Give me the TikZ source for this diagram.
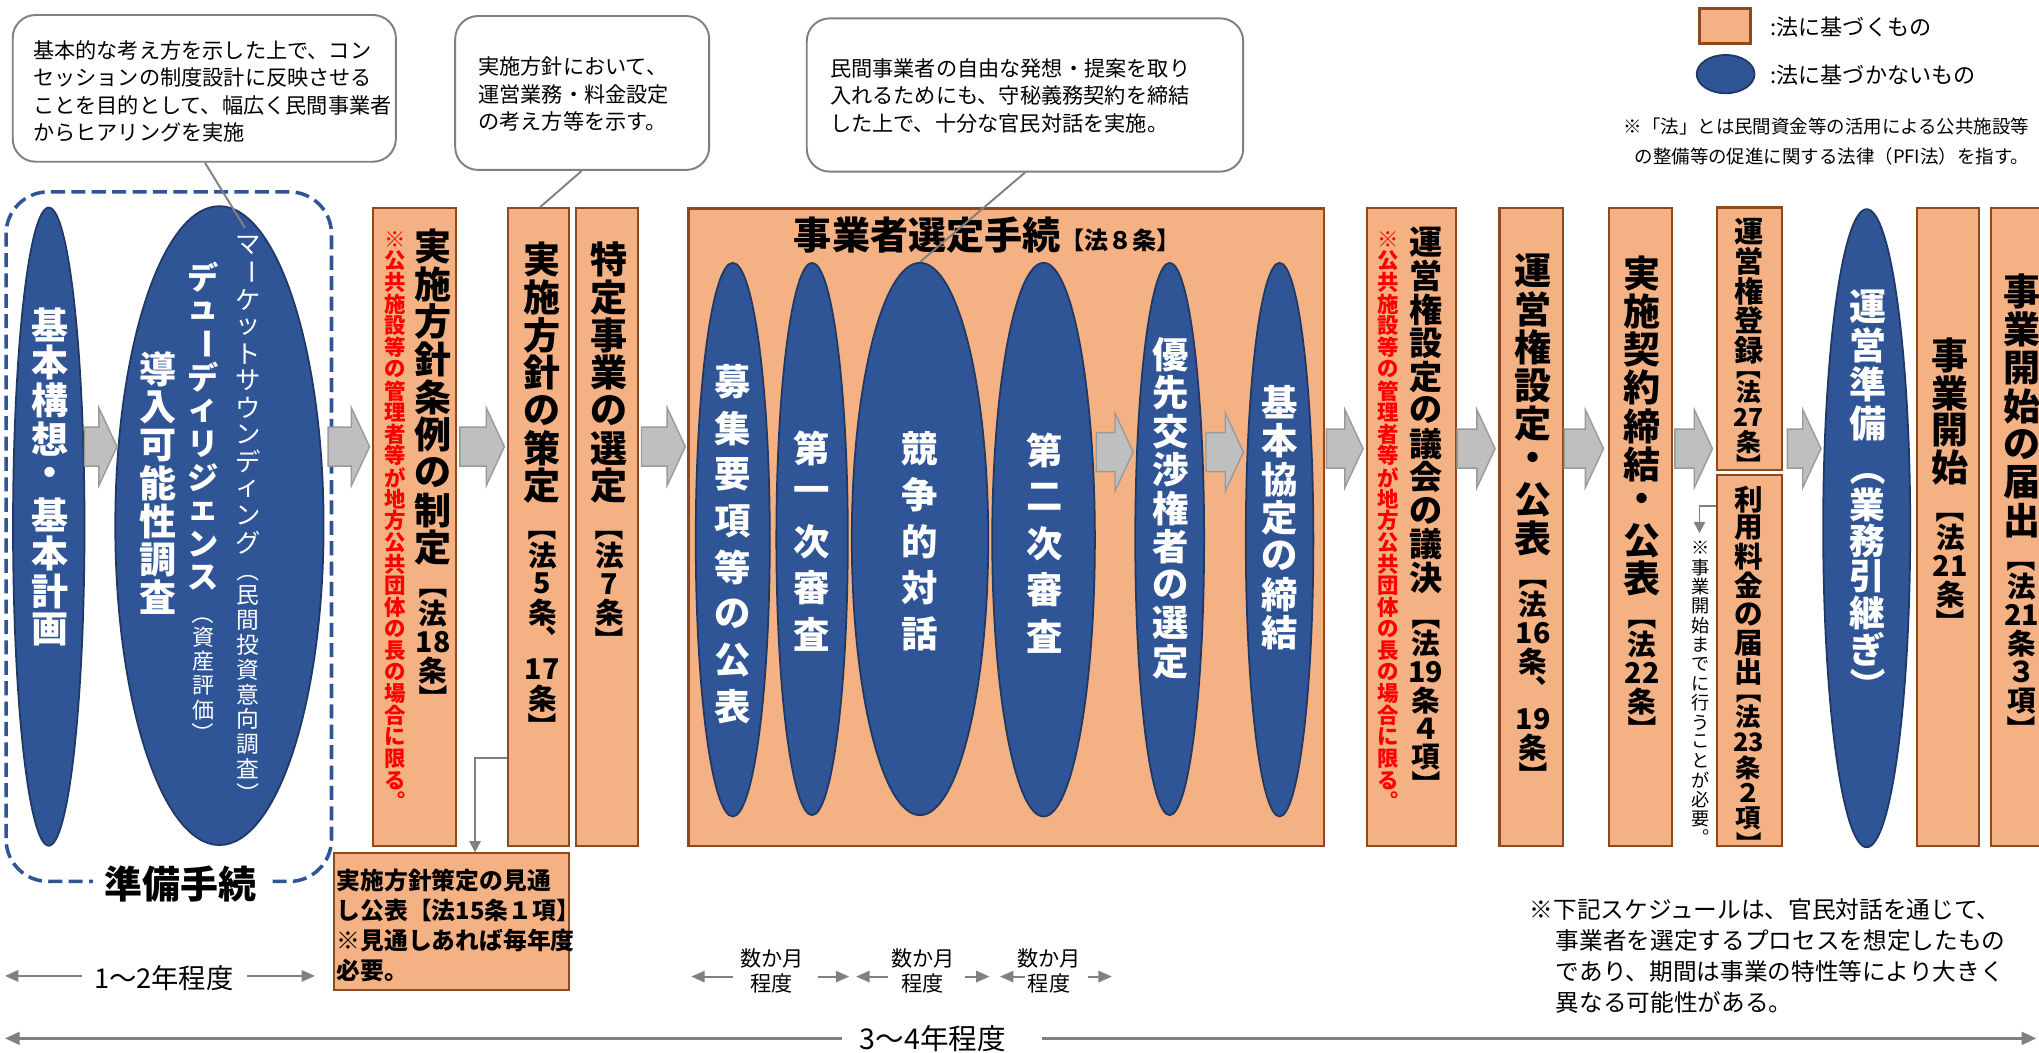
\documentclass[tikz,border=0pt]{standalone}
\usepackage{fontspec}
\setmainfont{Noto Sans CJK JP}
\usepackage{graphicx}
\usetikzlibrary{shapes.geometric,arrows.meta}

\definecolor{ofill}{HTML}{F4B183}
\definecolor{obrd}{HTML}{8E4A1C}
\definecolor{eblue}{HTML}{2F5597}
\definecolor{ebrd}{HTML}{1F3864}
\definecolor{arrfill}{HTML}{BFBFBF}
\definecolor{arrdraw}{HTML}{9A9A9A}
\definecolor{cgray}{HTML}{808080}
\definecolor{tred}{HTML}{FF0000}

\newdimen\px \px=0.36968pt
\newdimen\vtp
\def\vtstop{\vtstopmark}
\newcommand\Tv[2]{\vbox{\offinterlineskip\vtp=#1\px\relax\vtloop#2\vtstop}}
\def\vtloop#1{\ifx\vtstop#1\else\vtcell{#1}\expandafter\vtloop\fi}
\def\vtcell#1{\hbox to 1.1em{\hss\vbox to\vtp{\vss\hbox{#1}\vss}\hss}}
\newcommand\vLB{\rotatebox[origin=c]{-90}{【}}
\newcommand\vRB{\rotatebox[origin=c]{-90}{】}}
\newcommand\vLP{\rotatebox[origin=c]{-90}{（}}
\newcommand\vRP{\rotatebox[origin=c]{-90}{）}}
\newcommand\vCH{\rotatebox[origin=c]{-90}{ー}}
\newcommand\vVC{\raisebox{0pt}[0.85em][0.15em]{︑}}
\newcommand\vVP{\raisebox{0pt}[0.85em][0.15em]{︒}}
\newcommand\Fs[1]{\fontsize{#1\px}{#1\px}\selectfont}
\newcommand\Fl[2]{\fontsize{#1\px}{#2\px}\selectfont}
\newcommand\Fb[1]{\bfseries\Fs{#1}}

\tikzset{
 obox/.style={draw=obrd, fill=ofill, line width=0.6pt, inner sep=0pt},
 ebl/.style={ellipse, draw=ebrd, fill=eblue, line width=0.5pt, inner sep=0pt},
 vtx/.style={inner sep=0pt, anchor=north},
 wt/.style={text=white},
 bk/.style={text=black},
 rd/.style={text=tred},
 tx/.style={inner sep=0pt},
 callout/.style={draw=cgray, line width=0.55pt, rounded corners=6.5pt, fill=white, inner sep=0pt},
 ptr/.style={draw=cgray, line width=0.55pt},
 annot/.style={draw=cgray, line width=0.55pt, -{Triangle[length=3.2pt,width=3.2pt]}},
 tl/.style={draw=cgray, line width=0.6pt, -{Triangle[length=3.8pt,width=3.2pt]}},
 tll/.style={draw=cgray, line width=0.8pt, -{Triangle[length=4.2pt,width=3.6pt]}},
 dashbox/.style={draw=eblue, line width=1pt, dash pattern=on 4pt off 1.8pt, rounded corners=12pt, inner sep=0pt},
 barrowst/.style={fill=arrfill, draw=arrdraw, line width=0.4pt},
}
\newcommand\rnode[6]{\node[#1, minimum width={(#4-#3)*\px}, minimum height={(#6-#5)*\px}] (#2) at ({(#3+#4)/2},{(#5+#6)/2}) {};}
\newcommand\enode[5]{\node[ebl, minimum width={#3*\px}, minimum height={#5*\px}] (#1) at (#2,#4) {};}
\newcommand\vnode[7]{\node[vtx,#5,font=#6] (#1) at (#2,#3) {\Tv{#4}{#7}};}
\newcommand\barrow[3]{\path[barrowst] (#1,{#3-15}) -- ({#2-14},{#3-15}) -- ({#2-14},{#3-30}) -- (#2,#3) -- ({#2-14},{#3+30}) -- ({#2-14},{#3+15}) -- (#1,{#3+15}) -- cycle;}

\begin{document}
\begin{tikzpicture}[x=0.013004cm,y=-0.013004cm]
\fill[white] (0,0) rectangle (1568,809);
\useasboundingbox (0,0) rectangle (1568,809);

% preparation group
\node[dashbox, minimum width={250.4*\px}, minimum height={530.6*\px}] (prep) at (129.8,412.7) {};
\enode{e1}{37.5}{55}{405}{491}
\enode{e2}{168.75}{160.3}{404.2}{491.6}
\node[tx, fill=white, inner xsep=3.3pt, font=\Fb{29.2}] (prepl) at (139,680) {準備手続};

% boxes
\rnode{obox}{b1}{286.6}{350.7}{160}{650.5}
\rnode{obox}{b2}{390.9}{437.8}{160}{650.5}
\rnode{obox}{b3}{443}{490.4}{160}{650.5}
\rnode{obox}{bb}{529.3}{1018.2}{160.2}{650.5}
\rnode{obox}{b4}{1051.1}{1119.5}{160}{650.5}
\rnode{obox}{b5}{1153.1}{1201.9}{160}{650.5}
\rnode{obox}{b6}{1237.2}{1285.9}{160}{650.5}
\rnode{obox}{b7}{1320.3}{1370.4}{159.5}{361.5}
\rnode{obox}{b8}{1320.3}{1370.4}{364.9}{650.5}
\rnode{obox}{b9}{1474.1}{1522.1}{160}{650.5}
\rnode{obox}{b10}{1531.4}{1580}{160}{650.5}
\rnode{obox}{sb}{256.8}{437.8}{656.2}{761.3}

% ellipses in selection procedure
\enode{e3}{563.5}{57}{415}{426}
\enode{e4}{624.5}{55}{414.5}{425}
\enode{e5}{707.5}{105}{414.5}{425}
\enode{e6}{802.5}{79}{415}{426}
\enode{e7}{899.5}{53}{414.5}{425}
\enode{e8}{984}{52}{415}{426}
\enode{e9}{1435.5}{67}{406.2}{491}

% block arrows
\barrow{65}{90}{343.5}
\barrow{252.3}{284.2}{343.5}
\barrow{353.6}{387.9}{343.5}
\barrow{493.3}{527}{343.5}
\barrow{843}{871.4}{347.7}
\barrow{927.4}{956.2}{347.7}
\barrow{1020}{1048.2}{345}
\barrow{1120.5}{1149.7}{345}
\barrow{1202.9}{1233.1}{345}
\barrow{1288}{1316.9}{345}
\barrow{1374.5}{1400.3}{345}

% vertical texts
\vnode{e1t}{38.4}{234.4}{29.3}{wt}{\Fb{28.5}}{基本構想・基本計画}
\vnode{e2a}{190.5}{177.9}{20.8}{wt}{\Fs{19.5}}{マ\vCH ケットサウンディング}
\vnode{e2b}{190.5}{429.2}{19}{wt}{\Fs{17.5}}{\vLP 民間投資意向調査\vRP}
\vnode{e2c}{156.2}{199.9}{25.7}{wt}{\Fb{24}}{デュ\vCH ディリジェンス}
\vnode{e2d}{156.2}{462}{18.5}{wt}{\Fs{17}}{\vLP 資産評価\vRP}
\vnode{e2e}{121.9}{268.7}{29.3}{wt}{\Fb{28.5}}{導入可能性調査}
\vnode{b1a}{333}{174.4}{29}{bk}{\Fb{28.5}}{実施方針条例の制定}
\vnode{b1b}{333}{438}{22}{bk}{\Fb{22}}{\vLB 法{18}条\vRB}
\vnode{b1r}{303.8}{175.2}{16.65}{rd}{\Fb{16.5}}{※公共施設等の管理者等が地方公共団体の長の場合に限る\vVP}
\vnode{b2a}{417.1}{184.7}{29}{bk}{\Fb{28.5}}{実施方針の策定}
\vnode{b2b}{417.1}{393.4}{22}{bk}{\Fb{22}}{\vLB 法5条\vVC{17}条\vRB}
\vnode{b3a}{468.6}{184.7}{29}{bk}{\Fb{28.5}}{特定事業の選定}
\vnode{b3b}{468.6}{393.4}{22}{bk}{\Fb{22}}{\vLB 法7条\vRB}
\vnode{e3t}{563.5}{275.2}{35.7}{wt}{\Fb{28}}{募集要項等の公表}
\vnode{e4t}{624.5}{326.5}{35.7}{wt}{\Fb{28}}{第一次審査}
\vnode{e5t}{707.5}{326.5}{35.7}{wt}{\Fb{28}}{競争的対話}
\vnode{e6t}{803}{328.1}{35.7}{wt}{\Fb{28}}{第二次審査}
\vnode{e7t}{900}{257.5}{29.5}{wt}{\Fb{28}}{優先交渉権者の選定}
\vnode{e8t}{984.3}{294.3}{29.5}{wt}{\Fb{28}}{基本協定の締結}
\vnode{b4a}{1096.5}{173}{25.8}{bk}{\Fb{25.5}}{運営権設定の議会の議決}
\vnode{b4b}{1096.5}{462.2}{21.7}{bk}{\Fb{22}}{\vLB 法{19}条４項\vRB}
\vnode{b4r}{1067.3}{175.2}{16.65}{rd}{\Fb{16.5}}{※公共施設等の管理者等が地方公共団体の長の場合に限る\vVP}
\vnode{b5a}{1178.9}{193.1}{29.4}{bk}{\Fb{28.5}}{運営権設定・公表}
\vnode{b5b}{1178.9}{431.2}{22}{bk}{\Fb{22}}{\vLB 法{16}条\vVC{19}条\vRB}
\vnode{b6a}{1262.9}{194.8}{29.4}{bk}{\Fb{28.5}}{実施契約締結・公表}
\vnode{b6b}{1262.9}{462}{22}{bk}{\Fb{22}}{\vLB 法{22}条\vRB}
\vnode{b7a}{1344.7}{166.2}{22.8}{bk}{\Fb{22.5}}{運営権登録}
\vnode{b7b}{1344.7}{273}{18.9}{bk}{\Fb{19}}{\vLB 法{27}条\vRB}
\vnode{b8a}{1344.7}{372.3}{22.1}{bk}{\Fb{22}}{利用料金の届出}
\vnode{b8b}{1344.7}{521.6}{19.5}{bk}{\Fb{19.5}}{\vLB 法{23}条２項\vRB}
\vnode{n1}{1307.6}{413.5}{14.9}{bk}{\Fs{14}}{※事業開始までに行うことが必要\vVP}
\vnode{e9a}{1436.3}{220.4}{29.9}{wt}{\Fb{28.5}}{運営準備}
\vnode{e9b}{1436.3}{345.9}{27.75}{wt}{\Fb{27.5}}{\vLP 業務引継ぎ\vRP}
\vnode{b9a}{1499.8}{258.6}{28.8}{bk}{\Fb{28.5}}{事業開始}
\vnode{b9b}{1499.8}{379.75}{21.9}{bk}{\Fb{22}}{\vLB 法{21}条\vRB}
\vnode{b10a}{1554.8}{208.5}{29.5}{bk}{\Fb{28.5}}{事業開始の届出}
\vnode{b10b}{1554.8}{417.4}{22}{bk}{\Fb{22}}{\vLB 法{21}条３項\vRB}

% title of selection procedure
\node[tx, anchor=west, font=\Fb{29.3}] (bbt) at (610,181) {事業者選定手続{\Fb{18.5}【法８条】}};

% small box text
\node[tx, anchor=west, align=left, font={\bfseries\Fl{18.3}{23.1}}] (sbt) at (258.5,711.4) {実施方針策定の見通\\し公表【法15条１項】\\※見通しあれば毎年度\\必要。};

% annotation arrows
\coordinate (k1) at (0,583);
\coordinate (k2) at (365.3,0);
\draw[annot] (b2.west |- k1) -| (k2 |- sb.north);
\coordinate (k3) at (0,389);
\coordinate (k4) at (1306.9,410);
\draw[annot] (b8.west |- k3) -| (k4);

% callouts
\node[callout, minimum width={294.8*\px}, minimum height={112.9*\px}] (c1) at (157.1,67.95) {};
\node[tx, anchor=west, align=left, font=\Fl{16.3}{21.2}] (c1t) at (25,70.25) {基本的な考え方を示した上で、コン\\セッションの制度設計に反映させる\\ことを目的として、幅広く民間事業者\\からヒアリングを実施};
\node[callout, minimum width={195.4*\px}, minimum height={118.4*\px}] (c2) at (447.7,71.5) {};
\node[tx, anchor=west, align=left, font=\Fl{16.3}{21.2}] (c2t) at (367.3,72.5) {実施方針において、\\運営業務・料金設定\\の考え方等を示す。};
\node[callout, minimum width={335.8*\px}, minimum height={117.9*\px}] (c3) at (788.2,73.05) {};
\node[tx, anchor=west, align=left, font=\Fl{16.3}{21.2}] (c3t) at (637.8,73.7) {民間事業者の自由な発想・提案を取り\\入れるためにも、守秘義務契約を締結\\した上で、十分な官民対話を実施。};

\coordinate (p1s) at (157.6,0);
\coordinate (p1e) at (188.4,175.4);
\draw[ptr] (c1.south -| p1s) -- (p1e);
\coordinate (p2s) at (447.3,0);
\coordinate (p2e) at (415.3,0);
\draw[ptr] (c2.south -| p2s) -- (b2.north -| p2e);
\coordinate (p3s) at (788.2,0);
\draw[ptr] (c3.south -| p3s) -- (e5.north);

% legend
\rnode{obox,line width=0.9pt}{ls}{1307}{1346}{6.4}{33.3}
\node[ebl, minimum width={44.5*\px}, minimum height={29.5*\px}] (le) at (1327,57) {};
\node[tx, anchor=west, font=\Fs{17}] (lt1) at (1361,20.5) {:法に基づくもの};
\node[tx, anchor=west, font=\Fs{17}] (lt2) at (1361,57.7) {:法に基づかないもの};
\node[tx, anchor=east, align=right, font=\Fl{14.2}{23.1}] (lnote) at (1561,109) {※「法」とは民間資金等の活用による公共施設等\\の整備等の促進に関する法律（PFI法）を指す。};

% bottom note
\node[tx, anchor=west, align=left, font=\Fl{18.2}{23.8}] (bnote) at (1176,735) {※下記スケジュールは、官民対話を通じて、\\\hspace*{1.1em}事業者を選定するプロセスを想定したもの\\\hspace*{1.1em}であり、期間は事業の特性等により大きく\\\hspace*{1.1em}異なる可能性がある。};

% timeline
\node[tx, font=\Fs{21}] (t12) at (126,752) {1〜2年程度};
\coordinate (t12a) at (62.8,750.5);
\coordinate (t12l) at (3.8,750.5);
\coordinate (t12b) at (189.7,750.5);
\coordinate (t12r) at (242.2,750.5);
\draw[tl] (t12a) -- (t12l);
\draw[tl] (t12b) -- (t12r);

\node[tx, align=center, font=\Fl{16.3}{19}] (m1) at (593.6,746.5) {数か月\\程度};
\node[tx, align=center, font=\Fl{16.3}{19}] (m2) at (709.7,746.5) {数か月\\程度};
\node[tx, align=center, font=\Fl{16.3}{19}] (m3) at (806.8,746.5) {数か月\\程度};
\coordinate (m1a) at (564,751); \coordinate (m1l) at (531.6,751);
\coordinate (m1b) at (628.7,751); \coordinate (m1r) at (653,751);
\coordinate (m2a) at (682.7,751); \coordinate (m2l) at (658.4,751);
\coordinate (m2b) at (742,751); \coordinate (m2r) at (761,751);
\coordinate (m3a) at (788,751); \coordinate (m3l) at (769,751);
\coordinate (m3b) at (836.5,751); \coordinate (m3r) at (855,751);
\draw[tl] (m1a) -- (m1l); \draw[tl] (m1b) -- (m1r);
\draw[tl] (m2a) -- (m2l); \draw[tl] (m2b) -- (m2r);
\draw[tl] (m3a) -- (m3l); \draw[tl] (m3b) -- (m3r);

\node[tx, font=\Fs{22}] (t34) at (717.4,798.5) {3〜4年程度};
\coordinate (t34a) at (647.6,798.5);
\coordinate (t34l) at (3.8,798.5);
\coordinate (t34b) at (801.2,798.5);
\coordinate (t34r) at (1566,798.5);
\draw[tll] (t34a) -- (t34l);
\draw[tll] (t34b) -- (t34r);
\end{tikzpicture}
\end{document}
